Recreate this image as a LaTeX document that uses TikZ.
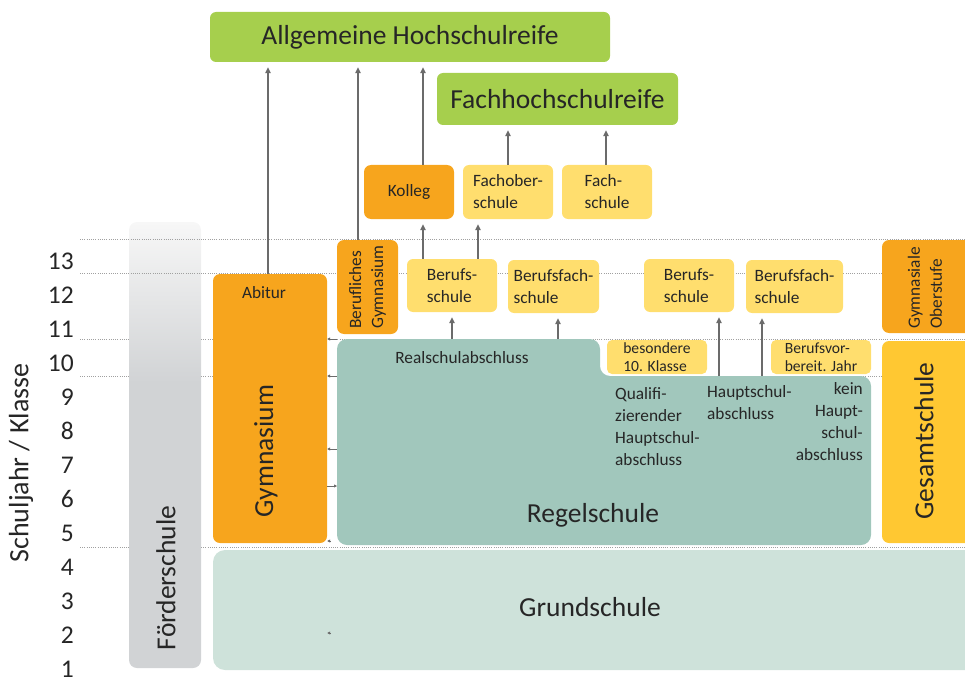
\documentclass[tikz,border=0pt]{standalone}
\usepackage{fontspec}
\setmainfont{Carlito}
\usetikzlibrary{fit,arrows.meta}
\definecolor{cgreen}{HTML}{A6CF4D}
\definecolor{corange}{HTML}{F7A51D}
\definecolor{cyellow}{HTML}{FFDE6E}
\definecolor{cgold}{HTML}{FFC832}
\definecolor{cteal}{HTML}{A1C7BC}
\definecolor{cgrund}{HTML}{CEE2DA}
\definecolor{fgray}{HTML}{D1D3D5}
\definecolor{ftop}{HTML}{F7F7F7}
\definecolor{ctext}{HTML}{262626}
\definecolor{carrow}{HTML}{6B6B6B}
\definecolor{cdot}{HTML}{A0A0A0}
\pgfdeclareverticalshading{foerdershade}{100bp}{color(0bp)=(fgray); color(57bp)=(fgray); color(75bp)=(ftop); color(100bp)=(ftop)}
\newcommand\fbig{\fontsize{27.5}{33}\selectfont}
\newcommand\fsmall{\fontsize{17.3}{22}\selectfont}
\newcommand\fsm{\fontsize{15.6}{17.5}\selectfont}
\tikzset{
  gbox/.style={fill=cgreen, rounded corners=6pt, inner sep=0pt},
  obox/.style={fill=corange, rounded corners=7pt, inner sep=0pt},
  ybox/.style={fill=cyellow, rounded corners=6pt, inner sep=0pt},
  lbl/.style={inner sep=0pt, text=ctext},
  mlbl/.style={inner sep=0pt, text=ctext, align=left, font=\fsmall},
  arr/.style={draw=carrow, line width=1.1pt, -{Triangle[width=5.5pt,length=6pt]}, shorten >=5pt},
  tinyarr/.style={draw=carrow, line width=0.9pt, -{Triangle[width=3pt,length=3pt]}},
  dotline/.style={draw=cdot, line width=0.9pt, dash pattern=on 1pt off 1.2pt},
}
\begin{document}
\begin{tikzpicture}[x=1pt,y=-1pt]
\useasboundingbox (0,0) rectangle (965,679);
\clip (0,0) rectangle (965,679);
% dotted grade lines (behind)
\draw[dotline] (80,339) -- (965,339);
\draw[dotline] (80,376) -- (965,376);
\draw[dotline] (80,547) -- (965,547);
% Foerderschule
\node[fit={(129,222)(201,668)}, inner sep=0pt, rounded corners=8pt, shade, shading=foerdershade] (foerder) {};
\draw[dotline] (80,239) -- (965,239);
\draw[dotline] (80,273) -- (965,273);
\node[lbl, rotate=90, font=\fbig] (foerdertxt) at (166,578) {Förderschule};
% axis
\node[lbl, rotate=90, font=\fontsize{28}{33}\selectfont] (axis) at (21,463) {Schuljahr / Klasse};
\foreach \n in {1,...,13}{
  \node[lbl, anchor=east, font=\fontsize{25.5}{30}\selectfont] (g\n) at (74,{261+34.0*(13-\n)}) {\n};
}
% top goals
\node[gbox, fit={(210,12)(610,62)}] (ahr) {};
\node[lbl, font=\fbig] (ahrtxt) at (ahr.center) {Allgemeine Hochschulreife};
\node[gbox, fit={(437,73)(678,125)}] (fhr) {};
\node[lbl, font=\fbig] (fhrtxt) at (fhr.center) {Fachhochschulreife};
% upper schools
\node[obox, fit={(364,165)(454,219)}] (kolleg) {};
\node[lbl, font=\fsmall] (kollegtxt) at (kolleg.center) {Kolleg};
\node[ybox, fit={(463,165)(553,219)}] (fos) {};
\node[mlbl] (fostxt) at (fos.center) {Fachober-\\schule};
\node[ybox, fit={(562,165)(652,219)}] (fs) {};
\node[mlbl] (fstxt) at (fs.center) {Fach-\\schule};
\node[obox, fit={(337,240)(398,334)}] (bg) {};
\node[mlbl, rotate=90] (bgtxt) at (bg.center) {Berufliches\\Gymnasium};
\node[ybox, fit={(407,259)(497,312)}] (bs1) {};
\node[mlbl] (bs1txt) at (bs1.center) {Berufs-\\schule};
\node[ybox, fit={(508,260)(599,313)}] (bfs1) {};
\node[mlbl] (bfs1txt) at (bfs1.center) {Berufsfach-\\schule};
\node[ybox, fit={(644,259)(734,312)}] (bs2) {};
\node[mlbl] (bs2txt) at (bs2.center) {Berufs-\\schule};
\node[ybox, fit={(746,260)(843,313)}] (bfs2) {};
\node[mlbl] (bfs2txt) at (bfs2.center) {Berufsfach-\\schule};
\node[obox, fit={(882,240)(980,333)}] (gost) {};
\node[mlbl, rotate=90] (gosttxt) at (925,288) {Gymnasiale\\Oberstufe};
% Gymnasium
\node[obox, fit={(213,274)(327,543)}] (gym) {};
\node[lbl, font=\fsmall] (abitur) at (264,293) {Abitur};
\node[lbl, rotate=90, font=\fbig] (gymtxt) at (266,451) {Gymnasium};
% Gesamtschule
\node[fill=cgold, rounded corners=7pt, inner sep=0pt, fit={(882,341)(980,543)}] (ges) {};
\node[lbl, rotate=90, font=\fbig] (gestxt) at (924,441) {Gesamtschule};
% Regelschule
\fill[cteal, rounded corners=10pt] (337,450) -- (337,339) -- (600,339) -- (600,376) -- (871,376) -- (871,545) -- (337,545) -- cycle;
\node[inner sep=0pt, fit={(337,339)(600,376)}] (rsa) {};
\node[lbl, font=\fsmall] (rsatxt) at (462,358) {Realschulabschluss};
\node[inner sep=0pt, fit={(600,376)(871,545)}] (hs) {};
\node[lbl, font=\fbig] (regel) at (593,515) {Regelschule};
\node[mlbl, anchor=north west] (quali) at (615,387) {Qualifi-\\zierender\\Hauptschul-\\abschluss};
\node[mlbl, anchor=north west] (hsa) at (707,385) {Hauptschul-\\abschluss};
\node[mlbl, align=right, anchor=north east] (kein) at (863,382) {kein\\Haupt-\\schul-\\abschluss};
% small yellow boxes
\node[ybox, rounded corners=5pt, fit={(607,340)(707,374)}] (b10) {};
\node[mlbl, font=\fsm] (b10txt) at (b10.center) {besondere\\10. Klasse};
\node[ybox, rounded corners=5pt, fit={(771,340)(871,374)}] (bvj) {};
\node[mlbl, font=\fsm] (bvjtxt) at (bvj.center) {Berufsvor-\\bereit. Jahr};
% Grundschule
\node[fill=cgrund, rounded corners=12pt, inner sep=0pt, fit={(213,550)(985,670)}] (grund) {};
\node[lbl, font=\fbig] (grundtxt) at (590,607) {Grundschule};
% arrows to Allgemeine Hochschulreife
\draw[arr] (gym.north -| 268,0) -- (ahr.south -| 268,0);
\draw[arr] (bg.north -| 358,0) -- (ahr.south -| 358,0);
\draw[arr] (kolleg.north -| 423,0) -- (ahr.south -| 423,0);
% arrows to Fachhochschulreife
\draw[arr] (fos.north -| 508,0) -- (fhr.south -| 508,0);
\draw[arr] (fs.north -| 606,0) -- (fhr.south -| 606,0);
% Berufsschule to Kolleg / Fachoberschule
\draw[arr] (bs1.north -| 423,0) -- (kolleg.south -| 423,0);
\draw[arr] (bs1.north -| 478,0) -- (fos.south -| 478,0);
% from Regelschule
\draw[arr] (rsa.north -| 452,0) -- (bs1.south -| 452,0);
\draw[arr] (rsa.north -| 558,0) -- (bfs1.south -| 558,0);
\draw[arr] (hs.north -| 719,0) -- (bs2.south -| 719,0);
\draw[arr] (hs.north -| 762,0) -- (bfs2.south -| 762,0);
% small transfer arrows between Regelschule and Gymnasium
\coordinate (rw) at (337,0);
\draw[tinyarr] (rw |- 0,339) -- (gym.east |- 0,339);
\draw[tinyarr] (rw |- 0,376) -- (gym.east |- 0,376);
\draw[tinyarr] (rw |- 0,449) -- (gym.east |- 0,449);
\draw[tinyarr] (gym.east |- 0,486) -- (rw |- 0,486);
\coordinate (t1) at (331,541);
\draw[tinyarr] (t1) -- (gym.east |- t1);
\coordinate (t2) at (331,633);
\draw[tinyarr] (t2) -- (gym.east |- t2);
\end{tikzpicture}
\end{document}
